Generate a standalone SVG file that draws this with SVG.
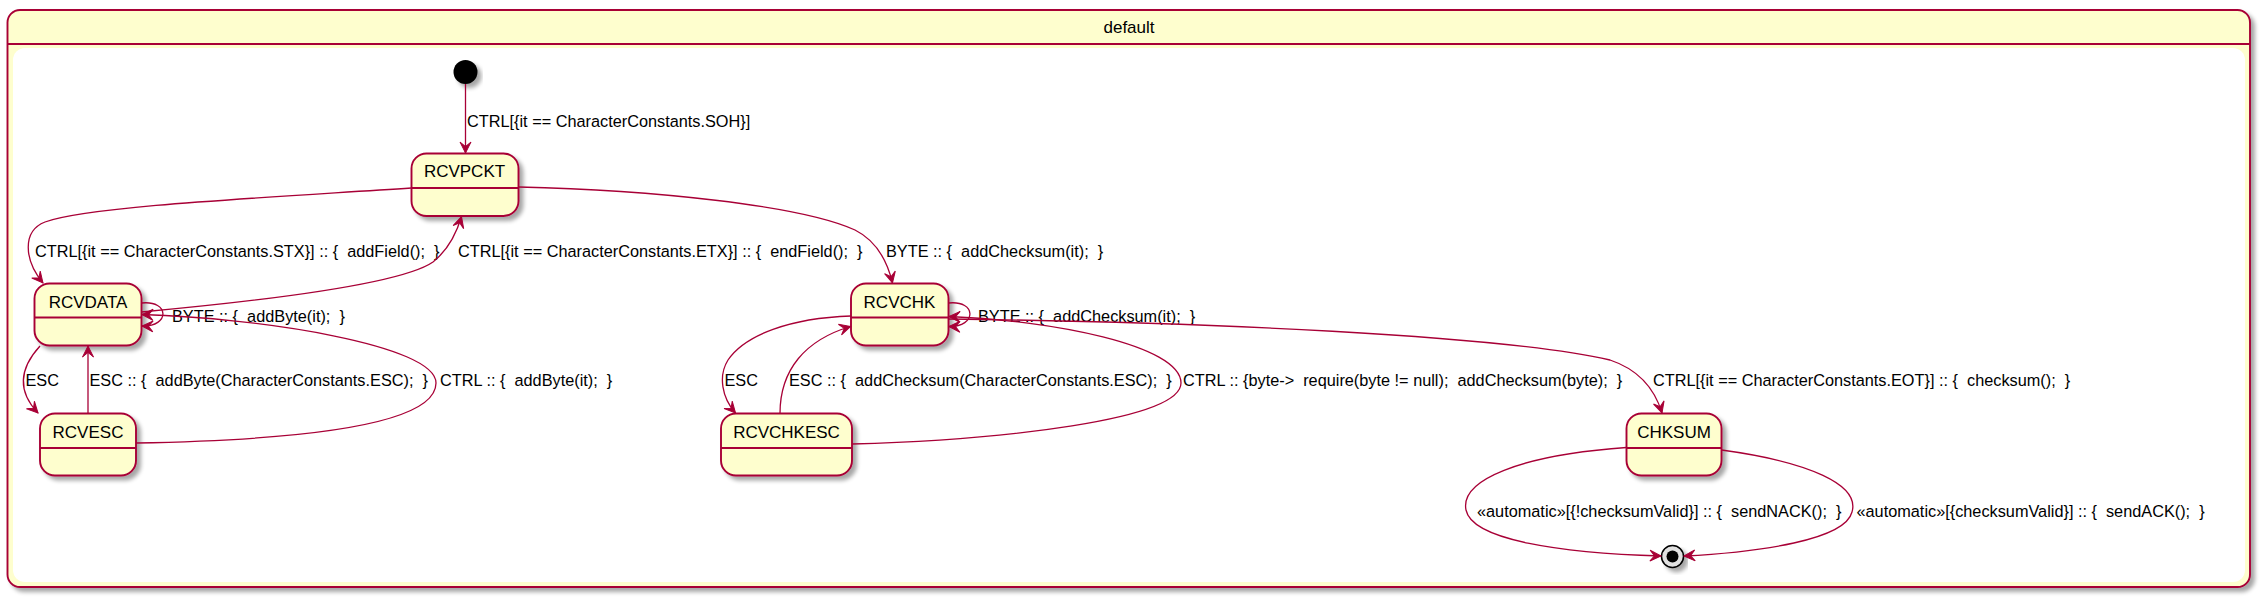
<svg xmlns="http://www.w3.org/2000/svg" width="2265" height="599" viewBox="0 0 2265 599">
<style>
.n { fill:#FEFECE; stroke:#A80036; stroke-width:1.9; }
.sep { stroke:#A80036; stroke-width:1.9; fill:none; }
.c { fill:none; stroke:#A80036; stroke-width:1.3; marker-end:url(#ah); }
.nt { font-family:"Liberation Sans", Arial, sans-serif; font-size:17px; fill:#000; text-anchor:middle; }
.lt { font-family:"Liberation Sans", Arial, sans-serif; font-size:16.3px; fill:#000; white-space:pre; }
</style>
<defs>
<filter id="sh" x="-10%" y="-10%" width="130%" height="140%">
<feGaussianBlur in="SourceAlpha" stdDeviation="2"/>
<feOffset dx="4" dy="4" result="o"/>
<feComponentTransfer><feFuncA type="linear" slope="0.35"/></feComponentTransfer>
<feMerge><feMergeNode/><feMergeNode in="SourceGraphic"/></feMerge>
</filter>
<marker id="ah" markerUnits="userSpaceOnUse" markerWidth="26" markerHeight="26" viewBox="-13 -13 26 26" refX="0" refY="0" orient="auto">
<path d="M0,0 L-11,-5.5 L-6.5,0 L-11,5.5 Z" fill="#A80036" stroke="#A80036" stroke-width="1"/>
</marker>
</defs>
<rect width="2265" height="599" fill="#fff"/>
<g id="default">
<rect x="7.5" y="10" width="2242.5" height="577" rx="12.5" class="n" filter="url(#sh)"/>
<rect x="13" y="48" width="2232" height="534" rx="12" fill="#fff"/>
<line x1="7.5" y1="44" x2="2250" y2="44" class="sep"/>
<text x="1129" y="33" class="nt">default</text>
</g>
<g id="initial">
<circle cx="465.5" cy="72" r="12" fill="#000" filter="url(#sh)"/>
</g>
<g id="RCVPCKT">
<rect x="411.5" y="153.5" width="107" height="62.5" rx="15" class="n" filter="url(#sh)"/>
<line x1="411.5" y1="188" x2="518.5" y2="188" class="sep"/>
<text x="464.5" y="177" class="nt">RCVPCKT</text>
</g>
<g id="RCVDATA">
<rect x="34.5" y="283.5" width="107" height="62" rx="15" class="n" filter="url(#sh)"/>
<line x1="34.5" y1="317.5" x2="141.5" y2="317.5" class="sep"/>
<text x="88" y="308" class="nt">RCVDATA</text>
</g>
<g id="RCVESC">
<rect x="40" y="413.5" width="96" height="62" rx="15" class="n" filter="url(#sh)"/>
<line x1="40" y1="448" x2="136" y2="448" class="sep"/>
<text x="88" y="438" class="nt">RCVESC</text>
</g>
<g id="RCVCHK">
<rect x="851" y="283.5" width="97.5" height="62" rx="15" class="n" filter="url(#sh)"/>
<line x1="851" y1="317.5" x2="948.5" y2="317.5" class="sep"/>
<text x="899.5" y="308" class="nt">RCVCHK</text>
</g>
<g id="RCVCHKESC">
<rect x="721" y="413.5" width="131" height="62" rx="15" class="n" filter="url(#sh)"/>
<line x1="721" y1="448" x2="852" y2="448" class="sep"/>
<text x="786.5" y="438" class="nt">RCVCHKESC</text>
</g>
<g id="CHKSUM">
<rect x="1626.5" y="413.5" width="95" height="62" rx="15" class="n" filter="url(#sh)"/>
<line x1="1626.5" y1="448" x2="1721.5" y2="448" class="sep"/>
<text x="1674" y="438" class="nt">CHKSUM</text>
</g>
<g id="final">
<circle cx="1672.5" cy="556.5" r="11" fill="#e0e0e0" stroke="#000" stroke-width="1.5" filter="url(#sh)"/>
<circle cx="1672.5" cy="556.5" r="6" fill="#000"/>
</g>
<g id="connectors">
<path class="c" d="M465.5,84 L465.5,153"/>
<text class="lt" x="467" y="127">CTRL[{it == CharacterConstants.SOH}]</text>

<path class="c" d="M411.5,188 C 260,198 90,206 45,222 C 22,231 24,260 43,283"/>
<text class="lt" x="35" y="257">CTRL[{it == CharacterConstants.STX}] :: {  addField();  }</text>

<path class="c" d="M141.5,312 C 250,302 400,285 433,262 C 448,250 456,235 461.5,216.5"/>
<text class="lt" x="458" y="257">CTRL[{it == CharacterConstants.ETX}] :: {  endField();  }</text>

<path class="c" d="M141.5,303 C 170,300 170,327 142,326"/>
<text class="lt" x="172" y="322">BYTE :: {  addByte(it);  }</text>

<path class="c" d="M136,443 C 300,440 436,425 436,383 C 436,345 260,318 142,314.5"/>
<text class="lt" x="440" y="386">CTRL :: {  addByte(it);  }</text>

<path class="c" d="M40,346 C 18,370 18,392 38,413"/>
<text class="lt" x="25.5" y="386">ESC</text>

<path class="c" d="M88,413.5 L88,346"/>
<text class="lt" x="89.5" y="386">ESC :: {  addByte(CharacterConstants.ESC);  }</text>

<path class="c" d="M518.5,187 C 650,190 800,205 855,230 C 875,240 887,260 892.5,283"/>
<text class="lt" x="886" y="257">BYTE :: {  addChecksum(it);  }</text>

<path class="c" d="M948.5,303 C 977,300 977,327 949,326.5"/>
<text class="lt" x="978" y="322">BYTE :: {  addChecksum(it);  }</text>

<path class="c" d="M852,444 C 1000,440 1181,420 1181,383 C 1181,345 1050,320 949,316.5"/>
<text class="lt" x="1183" y="386">CTRL :: {byte->  require(byte != null);  addChecksum(byte);  }</text>

<path class="c" d="M948.5,319 C 1200,322 1500,335 1610,360 C 1640,370 1655,390 1662,413"/>
<text class="lt" x="1653" y="386">CTRL[{it == CharacterConstants.EOT}] :: {  checksum();  }</text>

<path class="c" d="M851,316 C 790,318 745,335 728,360 C 718,376 722,398 735.5,413"/>
<text class="lt" x="724.5" y="386">ESC</text>

<path class="c" d="M780,413.5 C 780,370 805,340 850.5,326.5"/>
<text class="lt" x="789" y="386">ESC :: {  addChecksum(CharacterConstants.ESC);  }</text>

<path class="c" d="M1626.5,447.5 C 1520,455 1460,480 1466,510 C 1472,540 1560,553 1661,556"/>
<text class="lt" x="1477" y="517">«automatic»[{!checksumValid}] :: {  sendNACK();  }</text>

<path class="c" d="M1721.5,450 C 1810,462 1860,485 1852,512 C 1845,540 1760,552 1684,556"/>
<text class="lt" x="1856.5" y="517">«automatic»[{checksumValid}] :: {  sendACK();  }</text>
</g>
</svg>
